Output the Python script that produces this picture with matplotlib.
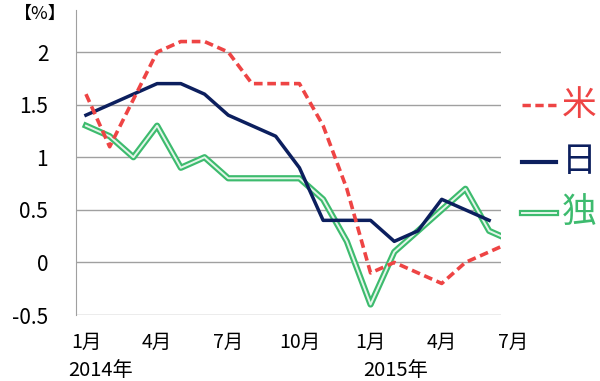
import numpy as np
import matplotlib
matplotlib.use("Agg")
import matplotlib.pyplot as plt
from matplotlib.lines import Line2D

plt.rcParams['font.family'] = ['Noto Sans CJK JP', 'DejaVu Sans']

# dati: gen 2014 - lug 2015 (indice 0..18)
mesi = list(range(19))
usa = [1.6, 1.1, 1.55, 2.0, 2.1, 2.1, 2.0, 1.7, 1.7, 1.7, 1.3, 0.7, -0.1, 0.0, -0.1, -0.2, 0.0, 0.1, 0.2]
giappone = [1.4, 1.5, 1.6, 1.7, 1.7, 1.6, 1.4, 1.3, 1.2, 0.9, 0.4, 0.4, 0.4, 0.2, 0.3, 0.6, 0.5, 0.4]
germania = [1.3, 1.2, 1.0, 1.3, 0.9, 1.0, 0.8, 0.8, 0.8, 0.8, 0.6, 0.2, -0.4, 0.1, 0.3, 0.5, 0.7, 0.3, 0.2]

pos_tick = [0, 3, 6, 9, 12, 15, 18]
etichette_mesi = ["1月", "4月", "7月", "10月", "1月", "4月", "7月"]
yticks = [-0.5, 0, 0.5, 1, 1.5, 2]
yticklabels = ["-0.5", "0", "0.5", "1", "1.5", "2"]

W, H = 600, 381
fig = plt.figure(figsize=(6, 3.81), dpi=100)
ax = fig.add_axes([76 / W, 1 - 315 / H, (501 - 76) / W, (315 - 10) / H])

rosso = "#ee4444"
blu = "#0c1f5e"
verde = "#3dbb6e"
centro = "#e4f6ea"

ax.plot(mesi, germania, color=verde, lw=4.5, zorder=3)
ax.plot(mesi, germania, color=centro, lw=1.4, zorder=3.1)
ax.plot(mesi[:len(giappone)], giappone, color=blu, lw=2.5, zorder=4)
ax.plot(mesi, usa, color=rosso, lw=2.6, ls=(0, (2.4, 1.3)), zorder=5)

ax.set_xlim(-0.42, 17.5)
ax.set_ylim(-0.5, 2.4)
ax.set_yticks(yticks)
ax.set_yticklabels(yticklabels, fontsize=15)
ax.grid(axis="y", color="#a0a0a0", lw=1)
ax.set_axisbelow(True)
ax.set_xticks([])
ax.tick_params(axis="y", length=0, pad=20)
for s in ["top", "right", "bottom"]:
    ax.spines[s].set_visible(False)
ax.spines["left"].set_color("#a0a0a0")

for p, t in zip(pos_tick, etichette_mesi):
    ax.text(p, -0.09, t, transform=ax.get_xaxis_transform(), ha="center", va="center",
            fontsize=14, clip_on=False)
fig.text(68 / W, 1 - 371 / H, "2014年", ha="left", va="center", fontsize=14.5)
fig.text(363 / W, 1 - 371 / H, "2015年", ha="left", va="center", fontsize=14.5)
fig.text(14 / W, 1 - 14 / H, "【%】", ha="left", va="center", fontsize=13)

# legenda manuale
voci = [("米", rosso, 105), ("日", blu, 162), ("独", verde, 213)]
for nome, col, yy in voci:
    yf = 1 - yy / H
    if nome == "米":
        fig.add_artist(Line2D([522 / W, 556 / W], [yf, yf], color=col, lw=2.5, ls=(0, (2.4, 1.3))))
    elif nome == "独":
        fig.add_artist(Line2D([522 / W, 556 / W], [yf, yf], color=col, lw=4.5))
        fig.add_artist(Line2D([522 / W, 556 / W], [yf, yf], color=centro, lw=1.4))
    else:
        fig.add_artist(Line2D([522 / W, 556 / W], [yf, yf], color=col, lw=3))
    fig.text(562 / W, yf, nome, color=col, fontsize=25, ha="left", va="center")

fig.savefig("out.png", dpi=100)
